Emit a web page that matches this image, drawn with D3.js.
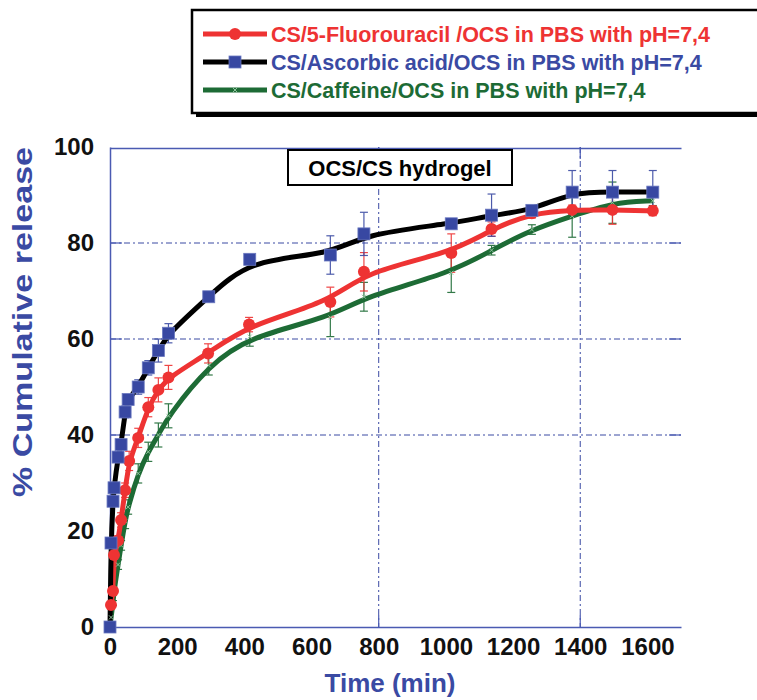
<!DOCTYPE html>
<html>
<head>
<meta charset="utf-8">
<script src="https://cdn.jsdelivr.net/npm/d3@7/dist/d3.min.js"></script>
<style>
  html, body { margin: 0; padding: 0; background: #fff; }
  svg { display: block; font-family: "Liberation Sans", Arial, Helvetica, sans-serif; }
</style>
</head>
<body>
<svg id="chart" width="757" height="700"></svg>
<script>
// Release time points (min)
const timeAB = [0, 3, 9, 12, 24, 33, 45, 54, 84, 114, 144, 174, 294, 416, 656, 756, 1016, 1136, 1256, 1376, 1496, 1616];
const timeFU = [3, 9, 12, 24, 33, 45, 57, 84, 114, 144, 174, 292, 414, 656, 756, 1016, 1136, 1256, 1376, 1496, 1616];

// % cumulative release
const fluorouracil = [4.6, 7.5, 15, 18, 22.3, 28.5, 34.6, 39.4, 45.8, 49.4, 52, 57, 63, 67.7, 74, 77.9, 82.9, 86.2, 86.9, 86.9, 86.7];
const ascorbic     = [0, 17.5, 26.2, 29, 35.4, 38, 44.8, 47.4, 50, 54, 57.6, 61.2, 68.8, 76.6, 77.5, 81.9, 84, 85.8, 86.8, 90.6, 90.6, 90.6];
const caffeine     = [0, 2, 5, 7.5, 13, 17, 22, 25, 32, 36.5, 40, 44, 54.5, 60.5, 64.5, 68.8, 73.8, 78.5, 82.8, 85.6, 88.4, 88.8];

// standard deviations
const fluorouracilErr = [0.5, 0.5, 1, 1, 1.5, 1.5, 2, 2, 2, 2.5, 2.5, 2, 1.5, 3.1, 4, 4, 1.5, 1, 1, 3, 1];
const ascorbicErr     = [0, 0, 0, 0.8, 1, 1, 1.2, 1, 1.5, 1.5, 2.4, 2, 0.5, 0.5, 4, 4.5, 1, 4.4, 0.5, 4.5, 4.5, 4.5];
const caffeineErr     = [0, 0, 0.5, 0.5, 1, 1, 1.5, 1.5, 2, 2, 2.5, 2.5, 2, 2, 4, 3, 4.1, 1, 1, 4.4, 4.3, 1];

const xTicks = [0, 200, 400, 600, 800, 1000, 1200, 1400, 1600];
const yTicks = [0, 20, 40, 60, 80, 100];
const xGrid = [800, 1400];
const yGrid = [40, 60, 80];

const seriesNames = [
  "CS/5-Fluorouracil /OCS in PBS with pH=7,4",
  "CS/Ascorbic acid/OCS in PBS with pH=7,4",
  "CS/Caffeine/OCS in PBS with pH=7,4"
];

const RED = "#ee3333", BLUE = "#3a4aa3", GREEN = "#1d6b35", AXIS = "#4a5ab2";

const svg = d3.select("#chart");
const pLeft = 110, pRight = 681, pTop = 147, pBottom = 627;

const x = d3.scaleLinear().domain([0, 1700]).range([pLeft, pRight]);
const y = d3.scaleLinear().domain([0, 100]).range([pBottom, pTop]);

// gridlines (dash-dot with solid tick ends)
const grid = svg.append("g");
yGrid.forEach(v => {
  grid.append("line").attr("x1", pLeft).attr("x2", pRight).attr("y1", y(v)).attr("y2", y(v))
    .attr("stroke", BLUE).attr("stroke-width", 1).attr("stroke-dasharray", "6,3,2,3");
  [[pLeft, pLeft + 12], [pRight - 12, pRight]].forEach(([a, b]) =>
    grid.append("line").attr("x1", a).attr("x2", b).attr("y1", y(v)).attr("y2", y(v))
      .attr("stroke", AXIS).attr("stroke-width", 1.2));
});
xGrid.forEach(v => {
  grid.append("line").attr("y1", pTop).attr("y2", pBottom).attr("x1", x(v)).attr("x2", x(v))
    .attr("stroke", BLUE).attr("stroke-width", 1).attr("stroke-dasharray", "6,3,2,3");
  [[pTop, pTop + 12], [pBottom - 12, pBottom]].forEach(([a, b]) =>
    grid.append("line").attr("y1", a).attr("y2", b).attr("x1", x(v)).attr("x2", x(v))
      .attr("stroke", AXIS).attr("stroke-width", 1.2));
});

// axes
const xAxis = svg.append("g").attr("transform", `translate(0,${pBottom})`)
  .call(d3.axisBottom(x).tickValues(xTicks).tickFormat(d3.format("d")).tickSize(0).tickPadding(10));
const xTopAxis = svg.append("g").attr("transform", `translate(0,${pTop + 1})`)
  .call(d3.axisTop(x).tickValues([]).tickSize(0));
const yAxis = svg.append("g").attr("transform", `translate(${pLeft},0)`)
  .call(d3.axisLeft(y).tickValues(yTicks).tickFormat(d3.format("d")).tickSize(0).tickPadding(16));
[xAxis, xTopAxis, yAxis].forEach(g => {
  g.select(".domain").attr("stroke", AXIS).attr("stroke-width", 1.5);
  g.selectAll("text").attr("font-size", 24).attr("font-weight", "bold").attr("fill", "#111")
    .attr("font-family", "'Liberation Sans', Arial, sans-serif");
});
xAxis.selectAll("text").attr("dy", "0.75em");

// axis titles
svg.append("text").attr("x", 390).attr("y", 692).attr("text-anchor", "middle")
  .attr("font-size", 26).attr("font-weight", "bold").attr("fill", BLUE).text("Time (min)");
svg.append("text").attr("transform", "translate(32,322) rotate(-90)").attr("text-anchor", "middle")
  .attr("font-size", 27).attr("font-weight", "bold").attr("fill", BLUE)
  .attr("textLength", 350).attr("lengthAdjust", "spacingAndGlyphs")
  .text("% Cumulative release");

// label box
svg.append("rect").attr("x", 288).attr("y", 150).attr("width", 224).attr("height", 35)
  .attr("fill", "#fff").attr("stroke", "#000").attr("stroke-width", 2);
svg.append("text").attr("x", 400).attr("y", 176).attr("text-anchor", "middle")
  .attr("font-size", 22).attr("font-weight", "bold").attr("fill", "#000").text("OCS/CS hydrogel");

// data
const series = [
  { t: timeAB, v: caffeine, e: caffeineErr, line: GREEN, bar: GREEN, marker: "cross" },
  { t: timeFU, v: fluorouracil, e: fluorouracilErr, line: RED, bar: RED, marker: "circle" },
  { t: timeAB, v: ascorbic, e: ascorbicErr, line: "#000", bar: BLUE, marker: "square" }
];

const line = d3.line().x(d => x(d[0])).y(d => y(d[1])).curve(d3.curveBasis);

const plot = svg.append("g");
// error bars
series.forEach(s => {
  s.t.forEach((t, i) => {
    if (!s.e[i]) return;
    const cx = x(t), y1 = y(s.v[i] - s.e[i]), y2 = y(s.v[i] + s.e[i]);
    const g = plot.append("g").attr("stroke", s.bar).attr("stroke-width", 1.2).attr("opacity", 0.9);
    g.append("line").attr("x1", cx).attr("x2", cx).attr("y1", y1).attr("y2", y2);
    g.append("line").attr("x1", cx - 4).attr("x2", cx + 4).attr("y1", y1).attr("y2", y1);
    g.append("line").attr("x1", cx - 4).attr("x2", cx + 4).attr("y1", y2).attr("y2", y2);
  });
});
// lines
series.forEach(s => {
  plot.append("path").datum(s.t.map((t, i) => [t, s.v[i]]))
    .attr("fill", "none").attr("stroke", s.line).attr("stroke-width", 5)
    .attr("stroke-linejoin", "round").attr("d", line);
});

function drawMarker(g, type, cx, cy) {
  if (type === "circle") {
    g.append("circle").attr("cx", cx).attr("cy", cy).attr("r", 6).attr("fill", RED);
  } else if (type === "square") {
    g.append("rect").attr("x", cx - 6).attr("y", cy - 6).attr("width", 12).attr("height", 12)
      .attr("fill", "#3848a2").attr("stroke", "#6a78c0").attr("stroke-width", 0.8);
  } else {
    g.append("path").attr("d", `M${cx - 2},${cy - 2}L${cx + 2},${cy + 2}M${cx - 2},${cy + 2}L${cx + 2},${cy - 2}`)
      .attr("stroke", "#8fc39c").attr("stroke-width", 1);
  }
}
// markers
series.forEach(s => {
  s.t.forEach((t, i) => drawMarker(plot, s.marker, x(t), y(s.v[i])));
});

// legend
const lg = svg.append("g");
lg.append("rect").attr("x", 196).attr("y", 14).attr("width", 600).attr("height", 103).attr("fill", "#000");
lg.append("rect").attr("x", 192).attr("y", 10).attr("width", 600).attr("height", 103)
  .attr("fill", "#fff").attr("stroke", "#000").attr("stroke-width", 2.5);
const legendItems = [
  { name: seriesNames[0], line: RED, marker: "circle", text: RED },
  { name: seriesNames[1], line: "#000", marker: "square", text: BLUE },
  { name: seriesNames[2], line: GREEN, marker: "cross", text: GREEN }
];
legendItems.forEach((d, i) => {
  const by = 42 + i * 28;
  lg.append("line").attr("x1", 203).attr("x2", 267).attr("y1", by - 8).attr("y2", by - 8)
    .attr("stroke", d.line).attr("stroke-width", 5);
  drawMarker(lg, d.marker, 235, by - 8);
  lg.append("text").attr("x", 271).attr("y", by).attr("font-size", 21.5).attr("font-weight", "bold")
    .attr("fill", d.text).text(d.name);
});
</script>
</body>
</html>
